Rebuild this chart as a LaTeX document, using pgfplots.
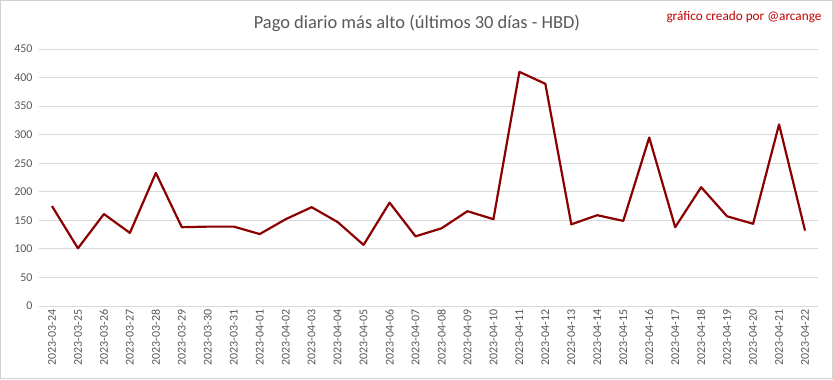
\documentclass[border=0pt]{standalone}
\usepackage{pgfplots}
\pgfplotsset{compat=1.18}
\usepackage{fontspec}
\setmainfont{Carlito}
\definecolor{linered}{RGB}{139,0,0}
\definecolor{gridgray}{RGB}{217,217,217}
\definecolor{txtgray}{RGB}{89,89,89}
\definecolor{credred}{RGB}{192,0,0}
\begin{document}
\begin{tikzpicture}[x=1bp,y=1bp]
\useasboundingbox (0,0) rectangle (833,379);
\fill[white] (0,0) rectangle (833,379);
\draw[black!18, line width=1bp] (0.5,0.5) rectangle (832.5,378.5);
\node[txtgray, font=\fontsize{18.5}{22}\selectfont] at (417,356) {Pago diario más alto (últimos 30 días - HBD)};
\node[credred, anchor=east, font=\fontsize{13.3}{16}\selectfont] at (825,362) {gráfico creado por @arcange};
\begin{axis}[
  at={(39bp,73bp)}, anchor=south west,
  scale only axis, width=779bp, height=257bp,
  xmin=-0.5, xmax=29.5, ymin=0, ymax=450,
  ytick={0,50,...,450},
  xtick={0,...,29},
  xticklabels={2023-03-24,2023-03-25,2023-03-26,2023-03-27,2023-03-28,2023-03-29,2023-03-30,2023-03-31,2023-04-01,2023-04-02,2023-04-03,2023-04-04,2023-04-05,2023-04-06,2023-04-07,2023-04-08,2023-04-09,2023-04-10,2023-04-11,2023-04-12,2023-04-13,2023-04-14,2023-04-15,2023-04-16,2023-04-17,2023-04-18,2023-04-19,2023-04-20,2023-04-21,2023-04-22},
  xticklabel style={rotate=90, anchor=east, font=\fontsize{12}{14}\selectfont, text=txtgray},
  yticklabel style={font=\fontsize{12}{14}\selectfont, text=txtgray, xshift=-3bp},
  /pgf/number format/assume math mode=true,
  ymajorgrids, grid style={gridgray, line width=1bp},
  axis line style={draw=none},
  major tick length=0pt,
  clip=false,
]
\addplot[linered, line width=2.2bp, mark=none, line join=round] coordinates {
(0,175) (1,101) (2,161) (3,128) (4,233) (5,138) (6,139) (7,139) (8,126) (9,152)
(10,173) (11,147) (12,107) (13,181) (14,122) (15,136) (16,166) (17,152) (18,410) (19,389)
(20,143) (21,159) (22,149) (23,295) (24,138) (25,208) (26,157) (27,144) (28,318) (29,132)
};
\end{axis}
\end{tikzpicture}
\end{document}
